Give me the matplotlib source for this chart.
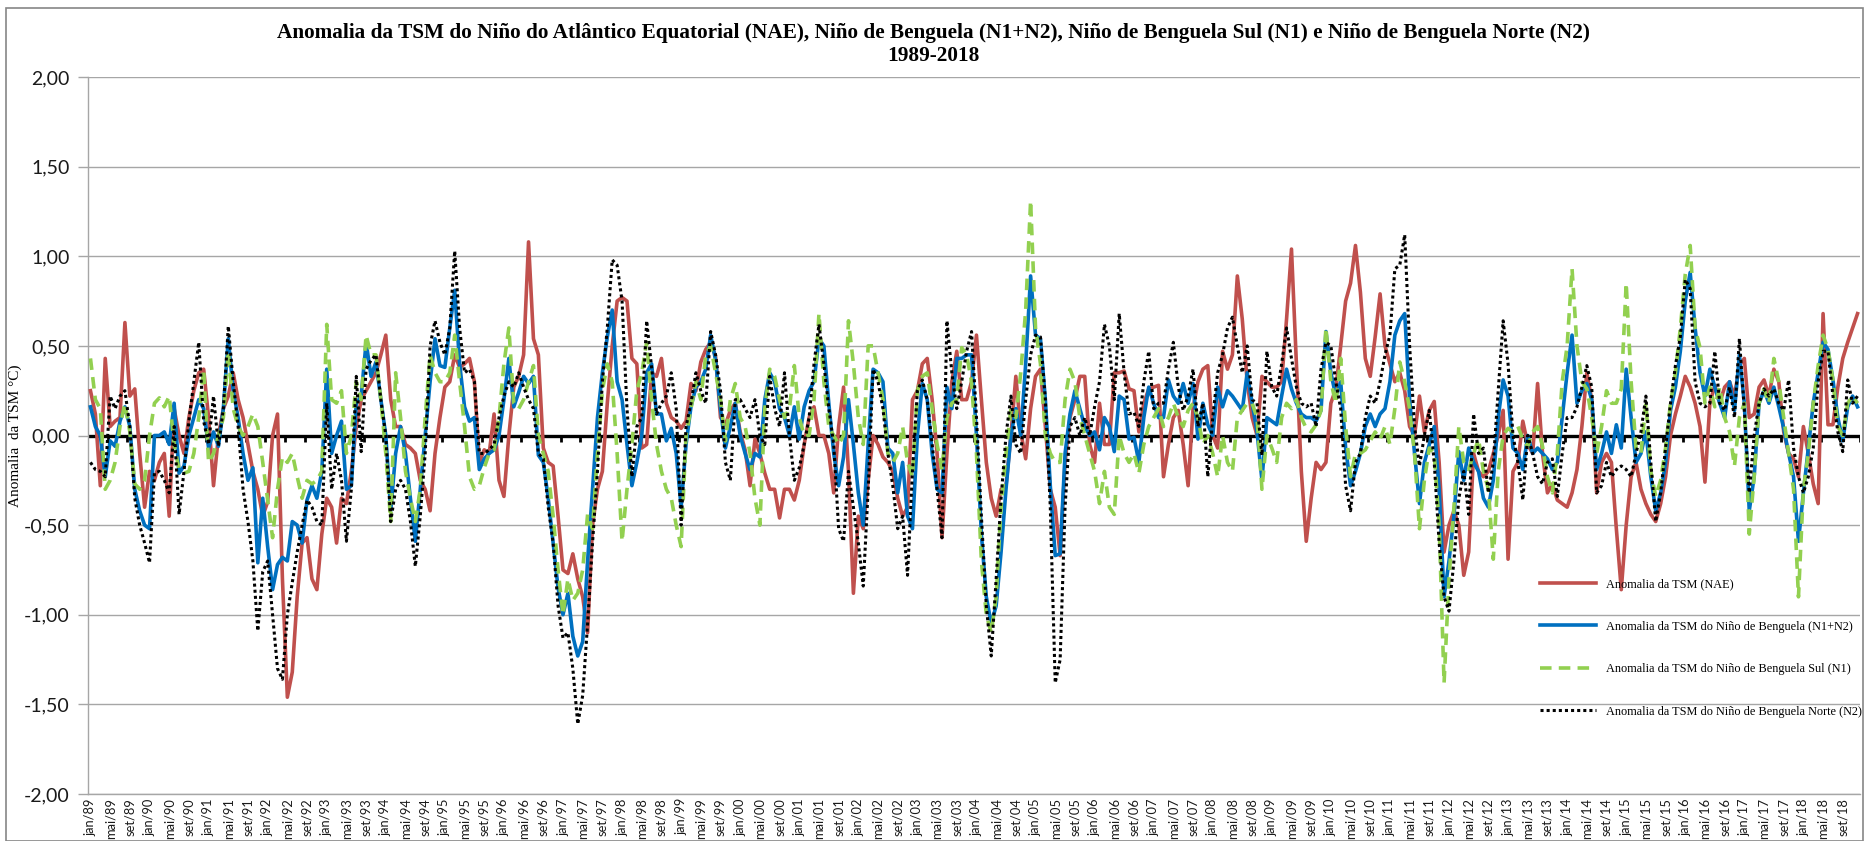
import numpy as np
import matplotlib
matplotlib.use("Agg")
import matplotlib.pyplot as plt

# monthly anomalies jan/1989 .. dez/2018, one row per year
nae = [
    0.25, 0.12, -0.28, 0.43, 0.05, 0.08, 0.10, 0.63, 0.22, 0.26, -0.10, -0.40,
    -0.20, -0.25, -0.15, -0.10, -0.45, 0.15, 0.00, -0.10, 0.10, 0.25, 0.35, 0.37,
    0.10, -0.28, 0.00, 0.15, 0.22, 0.35, 0.20, 0.10, -0.05, -0.20, -0.30, -0.45,
    -0.37, 0.00, 0.12, -0.80, -1.46, -1.32, -0.90, -0.60, -0.57, -0.80, -0.86, -0.55,
    -0.35, -0.40, -0.60, -0.35, -0.38, -0.20, 0.05, 0.20, 0.25, 0.30, 0.35, 0.45,
    0.56, 0.20, 0.05, 0.05, -0.05, -0.07, -0.10, -0.25, -0.30, -0.42, -0.10, 0.10,
    0.27, 0.30, 0.45, 0.38, 0.40, 0.43, 0.30, -0.15, -0.08, -0.10, 0.12, -0.25,
    -0.34, 0.00, 0.27, 0.33, 0.45, 1.08, 0.54, 0.45, -0.07, -0.15, -0.17, -0.45,
    -0.75, -0.77, -0.66, -0.80, -0.90, -1.10, -0.50, -0.30, -0.20, 0.18, 0.50, 0.75,
    0.77, 0.75, 0.43, 0.40, -0.07, -0.05, 0.35, 0.33, 0.43, 0.18, 0.10, 0.08,
    0.04, 0.08, 0.29, 0.25, 0.41, 0.48, 0.52, 0.44, 0.10, 0.06, 0.14, 0.18,
    0.02, -0.08, -0.28, -0.02, -0.10, -0.21, -0.30, -0.30, -0.46, -0.30, -0.30, -0.36,
    -0.25, -0.05, 0.10, 0.16, 0.00, 0.00, -0.10, -0.32, 0.05, 0.27, -0.20, -0.88,
    -0.45, -0.52, -0.25, 0.00, -0.05, -0.12, -0.15, -0.20, -0.35, -0.45, -0.40, 0.20,
    0.25, 0.40, 0.43, 0.20, -0.10, -0.57, -0.10, 0.30, 0.47, 0.20, 0.20, 0.30,
    0.56, 0.20, -0.15, -0.35, -0.45, -0.30, -0.28, 0.00, 0.33, 0.02, -0.13, 0.15,
    0.33, 0.37, 0.05, -0.30, -0.40, -0.67, -0.15, 0.10, 0.20, 0.33, 0.33, -0.05,
    -0.15, 0.18, -0.05, -0.05, 0.35, 0.35, 0.36, 0.26, 0.25, 0.02, 0.18, 0.26,
    0.27, 0.28, -0.23, -0.05, 0.10, 0.14, -0.05, -0.28, 0.15, 0.30, 0.37, 0.39,
    0.00, -0.07, 0.47, 0.37, 0.45, 0.89, 0.65, 0.30, 0.10, 0.00, 0.33, 0.30,
    0.27, 0.27, 0.30, 0.65, 1.04, 0.40, -0.20, -0.59, -0.35, -0.15, -0.19, -0.15,
    0.18, 0.26, 0.50, 0.75, 0.85, 1.06, 0.80, 0.43, 0.33, 0.55, 0.79, 0.50,
    0.40, 0.30, 0.35, 0.25, 0.05, 0.00, 0.22, 0.02, 0.14, 0.19, -0.15, -0.65,
    -0.50, -0.42, -0.50, -0.78, -0.65, -0.10, -0.20, -0.23, -0.20, -0.10, 0.00, 0.14,
    -0.69, -0.20, -0.15, 0.08, -0.05, -0.10, 0.29, -0.10, -0.32, -0.27, -0.36, -0.38,
    -0.40, -0.32, -0.19, 0.05, 0.35, 0.20, -0.32, -0.15, -0.10, -0.15, -0.52, -0.86,
    -0.50, -0.23, -0.15, -0.30, -0.38, -0.44, -0.48, -0.38, -0.23, 0.00, 0.12, 0.22,
    0.33, 0.27, 0.18, 0.05, -0.26, 0.18, 0.28, 0.18, 0.27, 0.30, 0.22, 0.39,
    0.43, 0.10, 0.12, 0.27, 0.31, 0.22, 0.37, 0.30, 0.02, -0.10, -0.13, -0.23,
    0.05, -0.10, -0.27, -0.38, 0.68, 0.06, 0.06, 0.27, 0.43, 0.52, 0.60, 0.68,
]

n1n2 = [
    0.16, 0.05, 0.00, -0.23, -0.03, -0.06, 0.08, 0.16, 0.05, -0.30, -0.42, -0.50,
    -0.52, 0.00, 0.00, 0.02, -0.05, 0.18, -0.21, -0.17, 0.00, 0.10, 0.20, 0.15,
    -0.07, 0.02, -0.06, 0.15, 0.54, 0.25, 0.10, -0.10, -0.25, -0.18, -0.71, -0.35,
    -0.62, -0.86, -0.72, -0.68, -0.70, -0.48, -0.50, -0.60, -0.36, -0.28, -0.35, -0.20,
    0.37, -0.10, 0.00, 0.08, -0.30, -0.28, 0.18, 0.22, 0.52, 0.33, 0.41, 0.20,
    0.00, -0.42, -0.10, 0.05, -0.10, -0.35, -0.59, -0.30, 0.00, 0.30, 0.54, 0.39,
    0.38, 0.60, 0.81, 0.40, 0.16, 0.08, 0.10, -0.19, -0.13, -0.10, -0.08, 0.00,
    0.20, 0.43, 0.16, 0.24, 0.33, 0.29, 0.33, -0.11, -0.15, -0.35, -0.60, -0.85,
    -1.00, -0.88, -1.12, -1.23, -1.15, -0.70, -0.30, 0.10, 0.35, 0.55, 0.70, 0.30,
    0.20, -0.05, -0.28, -0.15, 0.00, 0.35, 0.40, 0.12, 0.12, -0.03, 0.04, -0.10,
    -0.40, -0.05, 0.16, 0.27, 0.30, 0.37, 0.56, 0.42, 0.15, -0.07, 0.05, 0.18,
    0.00, -0.10, -0.19, -0.10, -0.12, 0.20, 0.35, 0.30, 0.15, 0.10, 0.00, 0.16,
    -0.02, 0.16, 0.25, 0.30, 0.54, 0.50, 0.18, -0.10, -0.28, -0.12, 0.20, -0.05,
    -0.32, -0.50, -0.05, 0.37, 0.35, 0.30, -0.07, -0.10, -0.32, -0.15, -0.45, -0.52,
    0.00, 0.29, 0.20, -0.10, -0.30, -0.32, 0.27, 0.15, 0.43, 0.43, 0.45, 0.45,
    0.00, -0.55, -0.90, -1.05, -0.95, -0.65, -0.30, 0.00, 0.15, 0.00, 0.40, 0.89,
    0.56, 0.54, 0.20, -0.28, -0.67, -0.66, -0.10, 0.12, 0.25, 0.15, 0.05, 0.00,
    0.02, -0.08, 0.10, 0.05, -0.09, 0.22, 0.20, -0.02, -0.01, -0.15, 0.10, 0.27,
    0.18, 0.10, 0.10, 0.31, 0.22, 0.18, 0.29, 0.18, 0.29, -0.02, 0.18, 0.06,
    0.00, 0.27, 0.16, 0.25, 0.22, 0.18, 0.14, 0.35, 0.18, 0.02, -0.25, 0.10,
    0.08, 0.06, 0.22, 0.37, 0.26, 0.18, 0.12, 0.10, 0.10, 0.08, 0.14, 0.58,
    0.35, 0.22, 0.30, -0.07, -0.28, -0.20, -0.10, 0.05, 0.12, 0.05, 0.12, 0.15,
    0.30, 0.56, 0.64, 0.68, 0.20, -0.10, -0.38, -0.15, -0.05, 0.05, -0.30, -0.90,
    -0.70, -0.45, -0.09, -0.25, -0.07, -0.15, -0.20, -0.35, -0.40, -0.25, 0.10, 0.31,
    0.22, -0.07, -0.10, -0.19, 0.00, -0.10, -0.07, -0.10, -0.13, -0.19, -0.15, 0.10,
    0.35, 0.56, 0.18, 0.25, 0.29, 0.20, -0.19, -0.10, 0.02, -0.10, 0.06, -0.07,
    0.37, 0.10, -0.15, -0.10, 0.02, -0.23, -0.42, -0.32, -0.15, 0.14, 0.27, 0.47,
    0.75, 0.91, 0.60, 0.35, 0.22, 0.37, 0.27, 0.18, 0.10, 0.30, 0.14, 0.45,
    0.18, -0.42, -0.23, 0.18, 0.25, 0.18, 0.27, 0.16, 0.04, -0.10, -0.23, -0.59,
    -0.32, -0.07, 0.18, 0.35, 0.52, 0.48, 0.31, 0.10, -0.03, 0.16, 0.22, 0.16,
]

n1 = [
    0.43, 0.20, 0.15, -0.30, -0.25, -0.15, 0.05, 0.18, 0.02, -0.27, -0.30, -0.25,
    0.00, 0.18, 0.21, 0.16, 0.22, -0.05, -0.19, -0.21, -0.20, -0.10, 0.10, 0.37,
    -0.15, -0.10, 0.00, 0.10, 0.47, 0.15, 0.05, 0.00, 0.05, 0.12, 0.05, -0.15,
    -0.36, -0.57, -0.30, -0.12, -0.15, -0.10, -0.23, -0.35, -0.25, -0.27, -0.25, -0.20,
    0.62, 0.20, 0.18, 0.25, -0.10, 0.00, 0.30, 0.20, 0.56, 0.45, 0.45, 0.20,
    -0.10, -0.48, 0.35, 0.10, -0.20, -0.35, -0.48, -0.30, 0.10, 0.45, 0.35, 0.30,
    0.30, 0.35, 0.56, 0.30, 0.05, -0.23, -0.30, -0.28, -0.18, -0.10, -0.08, 0.10,
    0.40, 0.60, 0.18, 0.15, 0.20, 0.30, 0.39, 0.00, -0.10, -0.20, -0.45, -0.75,
    -1.00, -0.80, -0.92, -0.88, -0.75, -0.44, -0.52, -0.10, 0.25, 0.40, 0.30, -0.10,
    -0.59, -0.30, -0.05, 0.25, 0.35, 0.52, 0.20, -0.05, -0.20, -0.30, -0.35, -0.50,
    -0.62, 0.00, 0.15, 0.30, 0.20, 0.45, 0.50, 0.35, 0.20, -0.03, 0.20, 0.29,
    0.10, 0.05, -0.10, -0.35, -0.50, 0.15, 0.37, 0.33, 0.20, 0.10, 0.15, 0.39,
    0.10, 0.00, 0.00, 0.20, 0.68, 0.30, 0.05, 0.00, -0.05, 0.00, 0.64, 0.40,
    0.10, -0.05, 0.50, 0.50, 0.35, 0.20, -0.10, -0.15, -0.10, 0.05, -0.15, -0.23,
    0.25, 0.33, 0.35, 0.15, -0.05, -0.19, 0.10, 0.18, 0.20, 0.49, 0.45, 0.30,
    -0.10, -0.70, -1.00, -1.10, -0.90, -0.40, -0.10, 0.15, 0.10, 0.35, 0.70, 1.31,
    0.60, 0.40, 0.00, -0.10, -0.15, -0.15, 0.20, 0.37, 0.30, 0.10, 0.00, -0.10,
    -0.20, -0.38, -0.20, -0.40, -0.44, 0.00, -0.10, -0.15, -0.10, -0.21, -0.05, 0.05,
    0.10, 0.15, 0.05, 0.10, 0.18, 0.10, 0.05, 0.14, 0.18, 0.10, -0.05, 0.00,
    -0.10, -0.23, 0.00, -0.15, -0.20, 0.10, 0.14, 0.18, 0.18, 0.10, -0.30, 0.00,
    -0.07, -0.15, 0.10, 0.18, 0.15, 0.20, 0.10, 0.04, 0.02, 0.06, 0.14, 0.60,
    0.30, 0.18, 0.43, 0.05, -0.23, -0.10, -0.10, -0.08, -0.03, 0.02, -0.02, 0.05,
    -0.05, 0.15, 0.41, 0.30, 0.15, -0.10, -0.52, -0.25, -0.07, -0.10, -0.50, -1.38,
    -0.80, -0.40, 0.05, -0.15, -0.19, -0.10, -0.02, -0.20, -0.30, -0.69, -0.20, 0.00,
    0.04, 0.02, 0.05, -0.02, -0.06, 0.02, 0.05, -0.06, -0.23, -0.32, -0.10, 0.30,
    0.50, 0.93, 0.50, 0.30, 0.26, 0.10, -0.10, 0.05, 0.25, 0.18, 0.18, 0.26,
    0.85, 0.30, -0.07, -0.10, 0.18, -0.20, -0.34, -0.25, -0.07, 0.18, 0.35, 0.60,
    0.90, 1.06, 0.60, 0.49, 0.18, 0.27, 0.16, 0.27, 0.10, 0.02, -0.17, 0.10,
    0.18, -0.55, -0.23, 0.18, 0.26, 0.18, 0.43, 0.30, 0.10, -0.10, -0.30, -0.90,
    -0.30, -0.10, 0.18, 0.39, 0.56, 0.48, 0.31, 0.05, 0.00, 0.18, 0.22, 0.18,
]

n2 = [
    -0.15, -0.19, -0.20, -0.23, 0.22, 0.15, 0.22, 0.25, 0.05, -0.35, -0.50, -0.60,
    -0.71, -0.21, -0.20, -0.25, -0.32, 0.05, -0.44, -0.20, 0.08, 0.30, 0.52, 0.08,
    -0.05, 0.22, -0.06, 0.15, 0.61, 0.30, 0.05, -0.30, -0.48, -0.70, -1.09, -0.76,
    -0.70, -1.00, -1.30, -1.36, -1.00, -0.82, -0.65, -0.50, -0.36, -0.40, -0.48, -0.50,
    0.18, -0.30, -0.10, -0.25, -0.59, -0.30, 0.33, -0.09, 0.37, 0.42, 0.45, 0.20,
    0.00, -0.48, -0.30, -0.25, -0.30, -0.48, -0.73, -0.45, -0.10, 0.50, 0.64, 0.52,
    0.45, 0.60, 1.03, 0.60, 0.35, 0.37, 0.30, -0.10, -0.10, -0.08, -0.05, 0.10,
    0.22, 0.30, 0.27, 0.35, 0.27, 0.20, 0.15, -0.10, -0.13, -0.40, -0.60, -0.95,
    -1.13, -1.10, -1.30, -1.61, -1.45, -1.05, -0.60, -0.20, 0.30, 0.60, 0.98, 0.95,
    0.75, 0.15, -0.23, 0.05, 0.10, 0.64, 0.38, 0.12, 0.18, 0.22, 0.35, 0.15,
    -0.50, 0.05, 0.18, 0.35, 0.25, 0.18, 0.58, 0.45, 0.25, -0.15, -0.25, 0.20,
    0.20, 0.15, 0.10, 0.20, 0.00, -0.05, 0.33, 0.15, 0.05, 0.35, 0.00, -0.25,
    -0.18, -0.05, 0.10, 0.40, 0.62, 0.40, 0.15, -0.05, -0.52, -0.59, -0.20, -0.40,
    -0.60, -0.84, -0.30, 0.37, 0.30, 0.15, -0.10, -0.28, -0.52, -0.45, -0.78, -0.20,
    0.25, 0.31, 0.20, -0.05, -0.30, -0.57, 0.64, 0.35, 0.15, 0.30, 0.47, 0.58,
    0.10, -0.45, -0.95, -1.23, -0.80, -0.35, 0.00, 0.22, -0.05, -0.10, 0.20, 0.45,
    0.56, 0.55, 0.20, -0.40, -1.38, -1.25, -0.40, 0.05, 0.10, 0.00, 0.10, 0.00,
    0.16, 0.30, 0.62, 0.50, 0.20, 0.68, 0.35, 0.12, 0.13, 0.05, 0.30, 0.47,
    0.15, 0.18, 0.18, 0.37, 0.52, 0.27, 0.14, 0.22, 0.37, 0.05, 0.18, -0.23,
    0.10, 0.35, 0.45, 0.60, 0.66, 0.50, 0.35, 0.50, 0.20, 0.18, -0.11, 0.47,
    0.27, 0.22, 0.40, 0.60, 0.43, 0.27, 0.18, 0.16, 0.18, 0.05, 0.37, 0.52,
    0.50, 0.30, 0.15, -0.28, -0.42, -0.15, -0.10, 0.10, 0.22, 0.18, 0.30, 0.45,
    0.56, 0.93, 0.95, 1.12, 0.50, 0.05, -0.17, 0.00, 0.14, -0.15, -0.60, -0.90,
    -0.98, -0.70, -0.35, -0.20, -0.44, 0.12, -0.10, -0.07, -0.32, -0.15, 0.25, 0.64,
    0.40, 0.00, -0.15, -0.36, 0.00, -0.10, -0.23, -0.27, -0.15, -0.13, -0.34, -0.10,
    0.10, 0.10, 0.16, 0.27, 0.39, 0.27, -0.32, -0.28, -0.15, -0.23, -0.19, -0.17,
    -0.19, -0.23, -0.10, 0.02, 0.22, -0.15, -0.48, -0.32, -0.07, 0.18, 0.39, 0.55,
    0.87, 0.82, 0.30, 0.18, 0.16, 0.18, 0.47, 0.18, 0.14, 0.27, 0.10, 0.54,
    0.14, -0.32, 0.00, 0.18, 0.26, 0.22, 0.26, 0.18, 0.14, 0.31, -0.07, -0.23,
    -0.32, -0.23, -0.07, 0.30, 0.47, 0.47, 0.22, 0.02, -0.09, 0.31, 0.18, 0.22,
]

month_names = ["jan", "fev", "mar", "abr", "mai", "jun", "jul", "ago", "set", "out", "nov", "dez"]
yticks = [-2.0, -1.5, -1.0, -0.5, 0.0, 0.5, 1.0, 1.5, 2.0]

title1 = ("Anomalia da TSM do Niño do Atlântico Equatorial (NAE), Niño de Benguela (N1+N2), "
          "Niño de Benguela Sul (N1) e Niño de Benguela Norte (N2)")
title2 = "1989-2018"
series_labels = [
    "Anomalia da TSM (NAE)",
    "Anomalia da TSM do Niño de Benguela (N1+N2)",
    "Anomalia da TSM do Niño de Benguela Sul (N1)",
    "Anomalia da TSM do Niño de Benguela Norte (N2)",
]

W, H = 1867, 841
x = np.arange(len(nae))
xlabels = [f"{month_names[i % 12]}/{(89 + i // 12) % 100:02d}" for i in range(0, len(nae), 4)]

fig = plt.figure(figsize=(W / 100, H / 100), dpi=100)
serif = "Liberation Serif"
sans = "Lato"

# plot area in pixels
left, right, top, bottom = 88, 1860, 77, 794
ax = fig.add_axes([left / W, 1 - bottom / H, (right - left) / W, (bottom - top) / H])

grid_c = "#A6A6A6"
for v in yticks:
    if v != 0:
        ax.axhline(v, color=grid_c, lw=1.0, zorder=1)
ax.axhline(0, color="black", lw=2.4, zorder=1.5)
# small tick marks on the zero axis every 4 months
for t in np.arange(3.5, len(nae), 4):
    ax.plot([t, t], [0, -0.035], color="black", lw=2.0, zorder=1.5, solid_capstyle="butt")

ax.plot(x, nae, color="#C0504D", lw=2.6, zorder=3, label=series_labels[0])
ax.plot(x, n1n2, color="#0070C0", lw=2.6, zorder=3.1, label=series_labels[1])
ax.plot(x, n1, color="#92D050", lw=2.6, zorder=3.2, dashes=(3.2, 2.0), label=series_labels[2])
ax.plot(x, n2, color="black", lw=2.2, zorder=3.3, dashes=(1.0, 1.0), label=series_labels[3])

ax.set_xlim(-0.5, len(nae) - 0.5)
ax.set_ylim(-2, 2)
ax.set_xticks(np.arange(0, len(nae), 4))
ax.set_xticklabels(xlabels, rotation=90, fontsize=9.3, family=sans, color="#1a1a1a")
ax.set_yticks(yticks)
ax.set_yticklabels([f"{v:.2f}".replace(".", ",") for v in yticks], fontsize=14, family=sans,
                   color="#1a1a1a")
ax.tick_params(axis="x", length=0, pad=3)
ax.tick_params(axis="y", length=7, width=1.0, color=grid_c, pad=6, direction="out")
for s in ["top", "right"]:
    ax.spines[s].set_visible(False)
ax.spines["left"].set_color(grid_c)
ax.spines["bottom"].set_color(grid_c)
ax.spines["left"].set_linewidth(1.0)
ax.spines["bottom"].set_linewidth(1.0)

leg = ax.legend(loc="upper left", bbox_to_anchor=(1540 / W, 1 - 578 / H),
                bbox_transform=fig.transFigure, frameon=False, borderpad=0, borderaxespad=0,
                handlelength=4.6, handletextpad=0.8, labelspacing=2.5,
                prop={"family": serif, "size": 8.8})

fig.text(0.5, 1 - 33 / H, title1, ha="center", va="center", fontsize=15.3, fontweight="bold",
         family=serif)
fig.text(0.5, 1 - 56 / H, title2, ha="center", va="center", fontsize=15.3, fontweight="bold",
         family=serif)
fig.text(15 / W, 1 - 436 / H, "Anomalia  da TSM °C)", rotation=90, ha="center", va="center",
         fontsize=11, family=serif)

# chart border
fig.patches.append(plt.Rectangle((6 / W, 0), (W - 10) / W, 1 - 8 / H, transform=fig.transFigure,
                                 fill=False, edgecolor="#868686", lw=1.2))

fig.savefig("out.png", dpi=100)
